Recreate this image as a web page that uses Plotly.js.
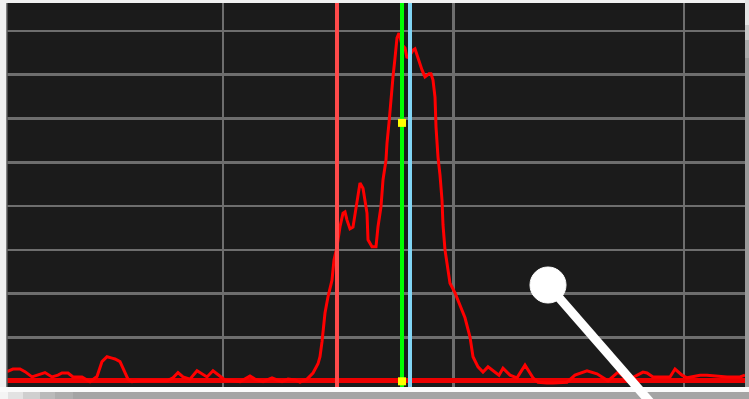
<!DOCTYPE html>
<html>
<head>
<meta charset="utf-8">
<script src="https://cdn.plot.ly/plotly-3.0.1.min.js"></script>
<style>html,body{margin:0;padding:0;background:#f0f0f0;overflow:hidden}#chart{width:749px;height:399px}</style>
</head>
<body>
<div id="chart"></div>
<script>
// Spectrum trace: frequency bin index and level in dB
const bins = [0,6,13,18,25,31,38,45,51,55,61,66,75,83,90,95,100,105,108,113,117,121,125,133,143,153,160,166,171,176,183,190,195,200,206,213,218,226,233,243,248,256,265,270,275,281,288,293,300,306,311,313,315,318,321,325,327,330,333,336,338,340,343,346,350,353,356,358,360,361,365,369,371,374,376,379,380,382,384,386,388,390,392,395,398,400,403,406,408,411,413,415,418,422,424,426,428,429,431,433,435,436,438,441,443,448,453,458,463,466,471,476,481,486,492,496,503,510,518,526,531,540,546,560,568,580,590,601,611,621,636,640,646,663,668,675,680,693,700,720,733,738];
const levels = [-97.8,-97.2,-97.2,-97.8,-99.0,-98.6,-98.0,-99.0,-98.6,-98.1,
-98.1,-99.0,-99.0,-100.1,-98.9,-95.5,-94.4,-94.7,-94.9,-95.5,
-97.4,-99.5,-100.1,-99.9,-99.9,-100.0,-99.9,-99.2,-98.0,-99.0,
-99.5,-97.6,-98.3,-99.0,-97.6,-98.8,-99.7,-99.9,-100.1,-98.8,
-99.5,-100.1,-99.2,-99.7,-100.1,-99.5,-99.7,-100.2,-99.5,-98.1,
-96.0,-94.4,-91.0,-84.4,-80.7,-76.9,-72.3,-69.3,-64.7,-61.6,
-61.3,-63.2,-65.2,-64.8,-58.6,-54.7,-55.9,-58.6,-61.6,-67.7,
-69.3,-69.3,-64.7,-60.1,-54.0,-49.5,-45.6,-41.0,-35.0,-30.5,
-26.2,-21.6,-20.5,-23.2,-23.9,-26.2,-25.5,-24.4,-24.1,-26.2,
-27.3,-28.9,-30.5,-29.8,-29.8,-31.2,-35.1,-41.9,-48.8,-52.9,
-58.6,-64.3,-70.0,-75.0,-77.6,-79.8,-82.8,-85.5,-89.9,-94.4,
-96.7,-97.9,-96.7,-97.6,-98.6,-97.0,-98.6,-99.2,-96.3,-99.2,
-100.2,-100.4,-100.4,-100.2,-98.6,-97.6,-98.3,-99.9,-97.9,-99.7,
-97.9,-98.1,-99.0,-99.0,-97.2,-98.6,-99.2,-98.6,-98.6,-99.0,
-99.0,-98.6];

// Threshold / noise-floor line
const thresholdLevel = -99.8;
const binRange = [0, 738];
const levelRange = [-101.3, -13.63];

// Markers (bin positions)
const markerNames = ['M1', 'M2', 'M3'];
const markerBins = [330, 395, 403];
const markerColors = ['#ff4a4a', '#00ff00', '#80d4f4'];

// Yellow marker points on M2
const pointBins = [395, 395];
const pointLevels = [-41.0, -100.0];

// Grid
const binGridStart = 216, binGridStep = 230.5;
const levelGridStart = -100, levelGridStep = 10;

const traces = [];
traces.push({x: binRange, y: [thresholdLevel, thresholdLevel], mode: 'lines',
  line: {color: '#ee0000', width: 5}, hoverinfo: 'skip', showlegend: false});
traces.push({x: bins, y: levels, mode: 'lines',
  line: {color: '#ff0000', width: 3}, hoverinfo: 'skip', showlegend: false});
markerBins.forEach((b, i) => {
  traces.push({x: [b, b], y: levelRange, mode: 'lines', name: markerNames[i],
    line: {color: markerColors[i], width: 4}, hoverinfo: 'skip', showlegend: false});
});
traces.push({x: pointBins, y: pointLevels, mode: 'markers',
  marker: {symbol: 'square', size: 8, color: '#ffff00'}, hoverinfo: 'skip', showlegend: false});

const W = 738, H = 384;
const px = v => (v - 7) / W;
const py = v => (387 - v) / H;

const shapes = [
  // frame strips around the plot
  {type: 'rect', xref: 'paper', yref: 'paper', x0: px(0), x1: px(749), y0: py(387), y1: py(392), fillcolor: '#fafafa', line: {width: 0}, layer: 'below'},
  {type: 'rect', xref: 'paper', yref: 'paper', x0: px(0), x1: px(749), y0: py(392), y1: py(405), fillcolor: '#a4a4a4', line: {width: 0}, layer: 'below'},
  {type: 'rect', xref: 'paper', yref: 'paper', x0: px(0), x1: px(8), y0: py(392), y1: py(405), fillcolor: '#f4f4f4', line: {width: 0}, layer: 'below'},
  {type: 'rect', xref: 'paper', yref: 'paper', x0: px(8), x1: px(23), y0: py(392), y1: py(405), fillcolor: '#e2e2e2', line: {width: 0}, layer: 'below'},
  {type: 'rect', xref: 'paper', yref: 'paper', x0: px(23), x1: px(40), y0: py(392), y1: py(405), fillcolor: '#cfcfcf', line: {width: 0}, layer: 'below'},
  {type: 'rect', xref: 'paper', yref: 'paper', x0: px(40), x1: px(55), y0: py(392), y1: py(405), fillcolor: '#bababa', line: {width: 0}, layer: 'below'},
  {type: 'rect', xref: 'paper', yref: 'paper', x0: px(55), x1: px(73), y0: py(392), y1: py(405), fillcolor: '#aeaeae', line: {width: 0}, layer: 'below'},
  {type: 'rect', xref: 'paper', yref: 'paper', x0: px(745), x1: px(752), y0: py(-5), y1: py(25), fillcolor: '#e4e4e4', line: {width: 0}, layer: 'below'},
  {type: 'rect', xref: 'paper', yref: 'paper', x0: px(745), x1: px(752), y0: py(25), y1: py(40), fillcolor: '#c8c8c8', line: {width: 0}, layer: 'below'},
  {type: 'rect', xref: 'paper', yref: 'paper', x0: px(745), x1: px(752), y0: py(40), y1: py(58), fillcolor: '#ababab', line: {width: 0}, layer: 'below'},
  {type: 'rect', xref: 'paper', yref: 'paper', x0: px(745), x1: px(752), y0: py(58), y1: py(387), fillcolor: '#9a9a9a', line: {width: 0}, layer: 'below'},
  // left border line
  {type: 'line', xref: 'paper', yref: 'paper', x0: 0, x1: 0, y0: 0, y1: 1, line: {color: '#5a5a5a', width: 1.5}},
  // white pointer
  {type: 'line', xref: 'paper', yref: 'paper', x0: px(548), y0: py(285), x1: px(657), y1: py(410), line: {color: '#ffffff', width: 9}},
  {type: 'circle', xref: 'paper', yref: 'paper', x0: px(530), x1: px(566), y0: py(303), y1: py(267), fillcolor: '#ffffff', line: {color: '#ffffff', width: 1}}
];

const layout = {
  width: 749, height: 399,
  margin: {l: 7, r: 4, t: 3, b: 12, pad: 0},
  paper_bgcolor: '#f0f0f0',
  plot_bgcolor: '#1b1b1b',
  showlegend: false,
  xaxis: {range: binRange, tick0: binGridStart, dtick: binGridStep, showgrid: true,
    gridcolor: '#6e6e6e', gridwidth: 2.5, zeroline: false, showticklabels: false,
    ticks: '', showline: false, fixedrange: true},
  yaxis: {range: levelRange, tick0: levelGridStart, dtick: levelGridStep, showgrid: true,
    gridcolor: '#6e6e6e', gridwidth: 2.5, zeroline: false, showticklabels: false,
    ticks: '', showline: false, fixedrange: true},
  shapes: shapes
};

Plotly.newPlot('chart', traces, layout, {displayModeBar: false, staticPlot: true});
</script>
</body>
</html>
